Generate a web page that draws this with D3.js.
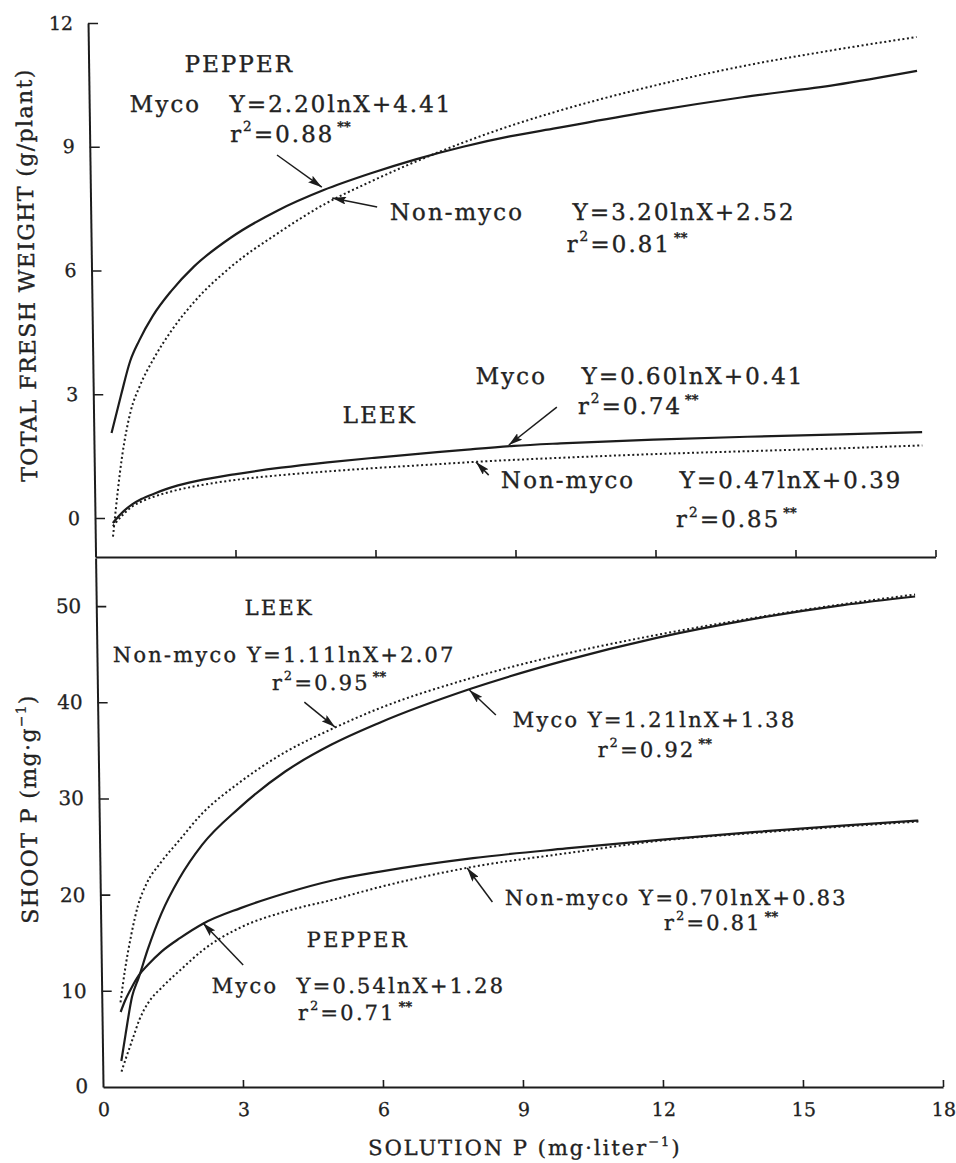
<!DOCTYPE html>
<html><head><meta charset="utf-8">
<script src="https://cdn.jsdelivr.net/npm/d3@7"></script>
<style>
html,body{margin:0;padding:0;background:#fff;}
svg{display:block;}
text{font-family:"DejaVu Serif",serif;fill:#222;}
</style></head><body>
<svg id="chart" width="956" height="1163"></svg>
<script>
// ---------- DATA ----------
const xTicks = [0, 3, 6, 9, 12, 15, 18];
const freshTicks = [0, 3, 6, 9, 12];
const shootTicks = [0, 10, 20, 30, 40, 50];

// Top panel: total fresh weight (g/plant) vs solution P
const freshX           = [0.38, 0.6, 0.8, 1.0, 1.3, 1.7, 2.2, 3, 4, 5, 6, 7, 8, 9, 10, 12, 14, 16, 17.75];
const pepperMycoFresh  = [2.06, 3.0, 3.8, 4.3, 4.9, 5.5, 6.1, 6.8, 7.45, 7.95, 8.35, 8.7, 9.0, 9.25, 9.45, 9.85, 10.2, 10.5, 10.84];
const pepperNonFresh   = [-0.45, 1.5, 2.6, 3.2, 3.85, 4.55, 5.25, 6.1, 6.9, 7.6, 8.15, 8.65, 9.1, 9.5, 9.85, 10.45, 10.95, 11.35, 11.66];
const leekMycoFresh    = [-0.12, 0.15, 0.33, 0.46, 0.6, 0.76, 0.9, 1.06, 1.22, 1.35, 1.46, 1.56, 1.66, 1.75, 1.81, 1.9, 1.97, 2.03, 2.08];
const leekNonFresh     = [-0.2, 0.08, 0.28, 0.4, 0.53, 0.66, 0.78, 0.92, 1.04, 1.13, 1.21, 1.28, 1.35, 1.41, 1.46, 1.55, 1.62, 1.69, 1.76];

// Bottom panel: shoot P (mg g-1) vs solution P
const shootX           = [0.4, 0.5, 0.65, 0.8, 1.0, 1.3, 1.7, 2.2, 3, 4, 5, 6, 8, 10, 12, 14, 16, 17.55];
const leekNonShoot     = [8.8, 12.0, 15.8, 18.8, 21.2, 23.3, 25.6, 28.4, 31.6, 34.8, 37.2, 39.3, 42.5, 45.0, 47.0, 48.7, 50.2, 51.2];
const leekMycoShoot    = [2.7, 5.5, 9.4, 11.4, 14.3, 18.0, 21.7, 25.2, 29.0, 32.8, 35.6, 37.8, 41.4, 44.3, 46.7, 48.6, 50.1, 51.0];
const pepperMycoShoot  = [7.8, 9.0, 10.4, 11.6, 12.7, 14.1, 15.5, 17.0, 18.6, 20.2, 21.5, 22.4, 23.8, 24.8, 25.7, 26.5, 27.2, 27.7];
const pepperNonShoot   = [1.6, 3.0, 5.0, 7.0, 8.8, 10.4, 12.2, 14.3, 16.6, 18.3, 19.5, 20.8, 22.9, 24.3, 25.6, 26.4, 27.1, 27.6];

// Annotation texts (anchored in data units of their panel)
const notes = [
  {p:"top", t:"PEPPER",          X:2.06,  v:10.81},
  {p:"top", t:"Myco",            X:0.87,  v:9.84},
  {p:"top", t:"Y=2.20lnX+4.41",  X:3.01,  v:9.84},
  {p:"top", r2:"0.88",           X:3.01,  v:9.12},
  {p:"top", t:"Non-myco",        X:6.41,  v:7.22},
  {p:"top", t:"Y=3.20lnX+2.52",  X:10.33, v:7.22},
  {p:"top", r2:"0.81",           X:10.19, v:6.45},
  {p:"top", t:"LEEK",            X:5.34,  v:2.30},
  {p:"top", t:"Myco",            X:8.20,  v:3.25},
  {p:"top", t:"Y=0.60lnX+0.41",  X:10.47, v:3.25},
  {p:"top", r2:"0.74",           X:10.38, v:2.52},
  {p:"top", t:"Non-myco",        X:8.71,  v:0.72},
  {p:"top", t:"Y=0.47lnX+0.39",  X:12.54, v:0.72},
  {p:"top", r2:"0.85",           X:12.45, v:-0.22},
  {p:"bot", t:"LEEK",            X:3.18,  v:49.06},
  {p:"bot", t:"Non-myco Y=1.11lnX+2.07", X:0.34, v:44.18},
  {p:"bot", r2:"0.95",           X:3.74,  v:41.27},
  {p:"bot", t:"Myco",            X:8.89,  v:37.42},
  {p:"bot", t:"Y=1.21lnX+1.38",  X:10.5,  v:37.42},
  {p:"bot", r2:"0.92",           X:10.7,  v:34.3},
  {p:"bot", t:"Non-myco Y=0.70lnX+0.83", X:8.67, v:18.92},
  {p:"bot", r2:"0.81",           X:12.07, v:16.32},
  {p:"bot", t:"PEPPER",          X:4.41,  v:14.55},
  {p:"bot", t:"Myco",            X:2.36,  v:9.77},
  {p:"bot", t:"Y=0.54lnX+1.28",  X:4.18,  v:9.77},
  {p:"bot", r2:"0.71",           X:4.2,   v:6.96}
];
const arrows = [
  {p:"top", from:[4.01, 8.80],  to:[4.96, 8.02]},
  {p:"top", from:[6.14, 7.54],  to:[5.18, 7.76]},
  {p:"top", from:[9.93, 2.69],  to:[8.89, 1.77]},
  {p:"top", from:[8.45, 1.04],  to:[8.18, 1.36]},
  {p:"bot", from:[4.43, 40.02], to:[5.08, 37.42]},
  {p:"bot", from:[8.53, 38.67], to:[7.97, 41.27]},
  {p:"bot", from:[8.40, 19.23], to:[7.87, 22.77]},
  {p:"bot", from:[3.04, 12.68], to:[2.19, 17.05]}
];

// ---------- DRAWING ----------
const ink = "#1c1c1c";
const svg = d3.select("#chart");
svg.append("rect").attr("width",956).attr("height",1163).attr("fill","#fff");
const skewDeg = Math.atan(0.0141) * 180 / Math.PI;
const root = svg.append("g").attr("transform", `skewX(${skewDeg})`);

const x = d3.scaleLinear().domain([0, 18]).range([87.7, 927.7]);
const yTop = d3.scaleLinear().domain([-0.945, 12]).range([557, 23]);
const yBot = d3.scaleLinear().domain([0, 55]).range([1087, 558]);
const yOf = {top: yTop, bot: yBot};

function styleAxis(g, fam, size) {
  g.attr("font-family", null).attr("font-size", null);
  g.select(".domain").attr("stroke", ink).attr("stroke-width", 2);
  g.selectAll(".tick line").attr("stroke", ink).attr("stroke-width", 1.6);
  g.selectAll(".tick text").attr("font-family", fam).attr("font-size", size)
    .attr("fill", "#222").attr("stroke", "#222").attr("stroke-width", 0.3);
}

// top panel axes
root.append("g").attr("transform", `translate(${x(0)},0)`)
  .call(d3.axisLeft(yTop).tickValues(freshTicks).tickSize(-10).tickSizeOuter(0).tickPadding(15))
  .call(g => styleAxis(g, "'DejaVu Serif', serif", 19));
root.append("g").attr("transform", `translate(0,${yTop.range()[0]})`)
  .call(d3.axisBottom(x).tickValues(xTicks.slice(1)).tickSize(-7).tickSizeOuter(0).tickFormat(""))
  .call(g => styleAxis(g, "'DejaVu Serif', serif", 19));

// bottom panel axes
root.append("g").attr("transform", `translate(${x(0)},0)`)
  .call(d3.axisLeft(yBot).tickValues(shootTicks.slice(1)).tickSize(-10).tickSizeOuter(0).tickPadding(15))
  .call(g => styleAxis(g, "'Liberation Sans', Arial, sans-serif", 20));
const yb0 = root.append("g").attr("transform", `translate(${x(0)},0)`);
yb0.append("text").attr("x", -15).attr("y", yBot(0)).attr("dy", "0.32em")
  .attr("text-anchor", "end").attr("font-family", "'Liberation Sans', Arial, sans-serif")
  .attr("font-size", 20).attr("stroke", "#222").attr("stroke-width", 0.3).text(shootTicks[0]);
root.append("g").attr("transform", `translate(0,${yBot.range()[0]})`)
  .call(d3.axisBottom(x).tickValues(xTicks).tickSize(-7).tickSizeOuter(0).tickPadding(16))
  .call(g => styleAxis(g, "'DejaVu Serif', serif", 19))
  .call(g => g.selectAll(".tick").filter(d => d === 0).select("line").remove());

// curves
function drawCurve(xs, ys, yS, dotted) {
  const ln = d3.line().x(d => x(d[0])).y(d => yS(d[1])).curve(d3.curveMonotoneX);
  root.append("path").datum(d3.zip(xs, ys)).attr("d", ln)
    .attr("fill", "none").attr("stroke", ink)
    .attr("stroke-width", dotted ? 2 : 2.2)
    .attr("stroke-dasharray", dotted ? "2,2.6" : null);
}
drawCurve(freshX, pepperMycoFresh, yTop, false);
drawCurve(freshX, pepperNonFresh, yTop, true);
drawCurve(freshX, leekMycoFresh, yTop, false);
drawCurve(freshX, leekNonFresh, yTop, true);
drawCurve(shootX, leekNonShoot, yBot, true);
drawCurve(shootX, leekMycoShoot, yBot, false);
drawCurve(shootX, pepperMycoShoot, yBot, false);
drawCurve(shootX, pepperNonShoot, yBot, true);

// arrow marker
svg.append("defs").append("marker").attr("id", "ah")
  .attr("viewBox", "0 0 14 8").attr("refX", 14).attr("refY", 4)
  .attr("markerWidth", 14).attr("markerHeight", 8)
  .attr("markerUnits", "userSpaceOnUse").attr("orient", "auto")
  .append("path").attr("d", "M0,0 L14,4 L0,8 L2.5,4 Z").attr("fill", ink);

arrows.forEach(a => {
  const yS = yOf[a.p];
  root.append("line")
    .attr("x1", x(a.from[0])).attr("y1", yS(a.from[1]))
    .attr("x2", x(a.to[0])).attr("y2", yS(a.to[1]))
    .attr("stroke", ink).attr("stroke-width", 1.5)
    .attr("marker-end", "url(#ah)");
});

// annotation texts
notes.forEach(n => {
  const yS = yOf[n.p];
  const fs = n.p === "top" ? 23 : 21;
  const ls = n.p === "top" ? 2 : 2.2;
  const t = root.append("text").attr("x", x(n.X)).attr("y", yS(n.v))
    .attr("font-size", fs).attr("letter-spacing", ls)
    .attr("stroke", "#222").attr("stroke-width", 0.35);
  if (n.t) { t.text(n.t); return; }
  t.append("tspan").text("r");
  t.append("tspan").attr("dy", -0.46 * fs).attr("font-size", 0.6 * fs).text("2");
  t.append("tspan").attr("dy", 0.46 * fs).text("=" + n.r2);
  t.append("tspan").attr("dx", 3).attr("dy", -0.45 * fs)
    .attr("font-size", 13).attr("font-weight", "bold").attr("letter-spacing", 0).text("**");
});

// axis titles
function rotTitle(cx, cy, main, sup, tail, fs, ls) {
  const t = root.append("text").attr("transform", `translate(${cx},${cy}) rotate(-90)`)
    .attr("text-anchor", "middle").attr("font-size", fs).attr("letter-spacing", ls)
    .attr("stroke", "#222").attr("stroke-width", 0.35);
  t.append("tspan").text(main);
  if (sup) {
    t.append("tspan").attr("dy", -0.42 * fs).attr("font-size", 0.62 * fs).text(sup);
    t.append("tspan").attr("dy", 0.42 * fs).text(tail);
  }
  return t;
}
rotTitle(30.5, 275, "TOTAL FRESH WEIGHT (g/plant)", null, null, 22, 1.4);
rotTitle(25, 809, "SHOOT P (mg\u00B7g", "\u22121", ")", 22, 1.4);

const xt = root.append("text").attr("x", 508.7).attr("y", 1155)
  .attr("text-anchor", "middle").attr("font-size", 21).attr("letter-spacing", 2)
  .attr("stroke", "#222").attr("stroke-width", 0.35);
xt.append("tspan").text("SOLUTION P (mg\u00B7liter");
xt.append("tspan").attr("dy", -9).attr("font-size", 13).text("\u22121");
xt.append("tspan").attr("dy", 9).text(")");
</script>
</body></html>
